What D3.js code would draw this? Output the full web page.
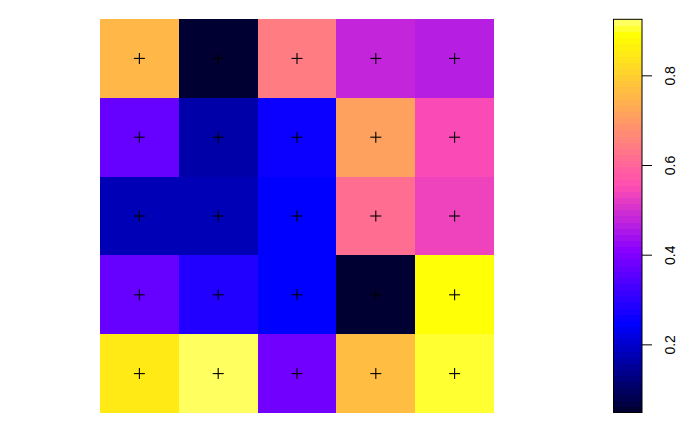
<!DOCTYPE html>
<html>
<head>
<meta charset="utf-8">
<script src="https://cdn.jsdelivr.net/npm/d3@7"></script>
<style>
  html, body { margin: 0; padding: 0; background: #fff; }
  svg { display: block; }
</style>
</head>
<body>
<svg id="chart" width="700" height="432"></svg>
<script>
// Grid values, rows listed top to bottom, columns left to right
const rowLabels = ["r1", "r2", "r3", "r4", "r5"];
const colLabels = ["c1", "c2", "c3", "c4", "c5"];
const row1 = [0.750, 0.048, 0.642, 0.486, 0.462];
const row2 = [0.368, 0.165, 0.267, 0.711, 0.545];
const row3 = [0.180, 0.184, 0.253, 0.623, 0.540];
const row4 = [0.365, 0.287, 0.243, 0.050, 0.896];
const row5 = [0.852, 0.925, 0.379, 0.769, 0.905];
const colorbarTicks = [0.2, 0.4, 0.6, 0.8];
const nColors = 64;

const rows = [row1, row2, row3, row4, row5];
const cells = [];
rows.forEach((r, ri) => r.forEach((v, ci) => cells.push({ row: rowLabels[ri], col: colLabels[ci], value: v })));

const allVals = cells.map(d => d.value);
const zmin = d3.min(allVals), zmax = d3.max(allVals);

// bpy.colors palette (blue-pink-yellow), cutoff tails 0.1
function bpy(i) {
  const r = i < 0.25 ? 0 : (i < 0.57 ? i / 0.32 - 0.78125 : 1);
  const g = i < 0.42 ? 0 : (i < 0.92 ? 2 * i - 0.84 : 1);
  const b = i < 0.25 ? 4 * i : (i < 0.42 ? 1 : (i < 0.92 ? -2 * i + 1.84 : i / 0.08 - 11.5));
  const c = x => Math.round(Math.max(0, Math.min(1, x)) * 255);
  return d3.rgb(c(r), c(g), c(b)).formatHex();
}
const palette = d3.range(nColors).map(k => bpy(0.05 + k / (nColors - 1) * 0.9));
const colorScale = d3.scaleQuantize().domain([zmin, zmax]).range(palette);

const svg = d3.select("#chart");

const x = d3.scaleBand().domain(colLabels).range([100, 494]).padding(0);
const y = d3.scaleBand().domain(rowLabels).range([19, 413]).padding(0);

svg.append("g").selectAll("rect").data(cells).join("rect")
  .attr("x", d => x(d.col))
  .attr("y", d => y(d.row))
  .attr("width", x.bandwidth() + 0.3)
  .attr("height", y.bandwidth() + 0.3)
  .attr("fill", d => colorScale(d.value))
  .attr("shape-rendering", "crispEdges");

const plusHalf = 5.5;
const plus = svg.append("g").attr("stroke", "#000").attr("stroke-width", 1.1);
cells.forEach(d => {
  const cx = x(d.col) + x.bandwidth() / 2;
  const cy = y(d.row) + y.bandwidth() / 2;
  plus.append("line").attr("x1", cx - plusHalf).attr("x2", cx + plusHalf).attr("y1", cy).attr("y2", cy);
  plus.append("line").attr("x1", cx).attr("x2", cx).attr("y1", cy - plusHalf).attr("y2", cy + plusHalf);
});

// Colorbar
const cbLeft = 613.5, cbRight = 642;
const cbY = d3.scaleLinear().domain([zmin, zmax]).range([412.5, 19.3]);
const step = (zmax - zmin) / nColors;
const bands = d3.range(nColors).map(k => ({ lo: zmin + k * step, hi: zmin + (k + 1) * step, color: palette[k] }));
svg.append("g").selectAll("rect").data(bands).join("rect")
  .attr("x", cbLeft)
  .attr("width", cbRight - cbLeft)
  .attr("y", d => cbY(d.hi))
  .attr("height", d => cbY(d.lo) - cbY(d.hi) + 0.5)
  .attr("fill", d => d.color)
  .attr("shape-rendering", "crispEdges");
svg.append("rect")
  .attr("x", cbLeft).attr("y", cbY(zmax))
  .attr("width", cbRight - cbLeft).attr("height", cbY(zmin) - cbY(zmax))
  .attr("fill", "none").attr("stroke", "#000").attr("stroke-width", 1);

const axis = d3.axisRight(cbY).tickValues(colorbarTicks).tickSize(10).tickPadding(0).tickFormat(d3.format(".1f"));
const ag = svg.append("g").attr("transform", `translate(${cbRight},0)`).call(axis);
ag.select(".domain").remove();
ag.selectAll(".tick line").attr("stroke", "#000");
ag.selectAll(".tick text")
  .attr("x", 0).attr("dy", null)
  .attr("transform", "translate(28,0) rotate(-90)")
  .attr("text-anchor", "middle")
  .attr("dominant-baseline", "central")
  .attr("fill", "#000")
  .style("font-family", "'Liberation Sans', Arial, sans-serif")
  .style("font-size", "14px");
</script>
</body>
</html>
